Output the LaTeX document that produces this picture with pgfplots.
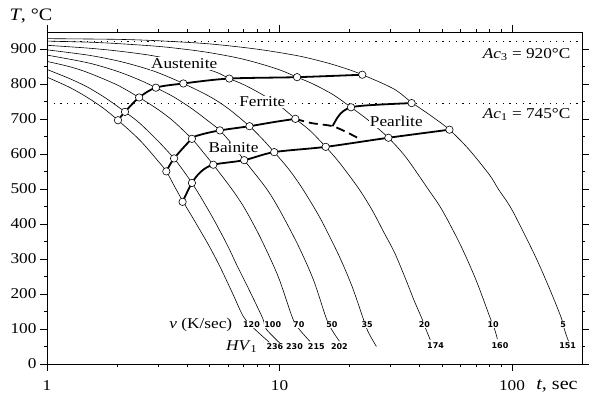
\documentclass[border=0pt]{standalone}
\usepackage{fontspec}
\setmainfont{Liberation Serif}[FakeStretch=1.15]
\newfontfamily\numfont{DejaVu Sans}
\usepackage{pgfplots}
\pgfplotsset{compat=1.18}
\usetikzlibrary{calc}
\begin{document}
\begin{tikzpicture}[font=\fontsize{15}{18}\selectfont]
\begin{axis}[
  scale only axis, width=535pt, height=332pt,
  xmode=log, xmin=1, xmax=200, ymin=0, ymax=948,
  xtick={1,10,100}, xticklabels={1,10,100},
  minor xtick={2,3,4,5,6,7,8,9,20,30,40,50,60,70,80,90},
  ytick={0,100,200,300,400,500,600,700,800,900},
  minor ytick={50,150,250,350,450,550,650,750,850},
  tick align=outside,
  major tick length=7pt, minor tick length=3pt,
  tick style={black, line width=0.6pt},
  axis line style={line width=0.8pt},
  xticklabel style={yshift=-6pt},
  /pgf/number format/assume math mode=true,
  clip=false,
  cv/.style={black, line width=0.6pt, smooth},
  tl/.style={black, line width=1.8pt, smooth},
]
\coordinate (ll) at (rel axis cs:0,0);
\coordinate (ur) at (rel axis cs:1,1);
% Ac lines
\addplot[black, line width=0.9pt, dash pattern=on 1.2pt off 5.5pt] coordinates {(1,920) (200,920)};
\addplot[black, line width=0.9pt, dash pattern=on 1.2pt off 5.5pt] coordinates {(1,745) (200,745)};
% cooling curves
\addplot[cv] coordinates {(1,819) (1.25,790) (1.5,760) (1.75,730) (2.02,696) (2.5,640) (3,580) (3.26,550) (3.55,505) (3.83,466) (4.3,410) (5,335) (5.6,272) (6.3,200) (7.0,135) (7.81,100) (9.04,62)};
\addplot[cv] coordinates {(1,841) (1.25,815) (1.5,790) (1.8,758) (2.165,720) (2.5,688) (3,637) (3.52,587) (3.85,553) (4.2,517) (4.6,475) (5.24,410) (5.98,338) (6.6,278) (7.3,220) (8.46,131) (8.76,100) (10.2,55)};
\addplot[cv] coordinates {(1,864) (1.25,849) (1.5,832) (2,797) (2.49,761) (3,727) (3.5,693) (4.2,643) (4.6,612) (5.19,569) (6.18,503) (7,450) (8,380) (9,310) (10,240) (11.4,130) (12.2,98) (13.5,65)};
\addplot[cv] coordinates {(1,882) (1.5,860) (2,836) (2.5,811) (2.94,789) (3.5,763) (4.2,729) (5,691) (5.54,667) (6.3,625) (7.05,582) (8.76,502) (10,440) (12,340) (14,240) (15.9,130) (16.96,93) (18.1,65)};
\addplot[cv] coordinates {(1,897) (1.5,882) (2,866) (2.5,849) (3,832) (3.86,801) (5,764) (6,730) (7.43,679) (8.4,644) (9.49,605) (11,555) (12.6,499) (15,415) (18,310) (20.5,222) (22.9,130) (24.0,93) (26.1,50)};
\addplot[cv] coordinates {(1,910) (1.5,902) (2,894) (2.75,882) (3.5,868) (4.5,849) (5.4,832) (6.08,815) (7,798) (8.4,770) (10,738) (11.7,700) (13.5,667) (15.8,620) (18,577) (21.8,503) (25,440) (28,378) (31.3,317) (35,240) (38,180) (40.9,131) (42.7,98) (44.5,69)};
\addplot[cv] coordinates {(1,922) (1.5,919) (2,915) (3,907) (4,898) (5,889) (6.5,875) (8,860) (10,840) (11.9,819) (14,799) (17,769) (20.3,733) (24,697) (29.4,646) (35,590) (43.5,500) (50,440) (60,340) (70,240) (80.6,131) (84.3,98) (86.5,71)};
\addplot[cv] coordinates {(1,929) (2,927) (3,923) (5,914) (8,899) (12,880) (16,860) (20,840) (22.7,826) (28,800) (32,780) (37,747) (45,708) (53.8,669) (65,614) (80,540) (87.6,498) (100,440) (125,312) (145,215) (163,131) (169,93) (175,65)};
% transformation lines
\addplot[tl] coordinates {(2.02,696) (2.165,720) (2.49,761) (2.94,789) (3.86,801) (6.08,815) (11.9,819) (22.7,826)};
\addplot[tl] coordinates {(3.26,550) (3.52,587) (4.2,643) (4.59,655) (5.54,667) (7.43,679) (9.5,691) (11.7,700)};
\addplot[black, line width=1.8pt, smooth, dash pattern=on 9pt off 5pt] coordinates {(11.7,700) (13.7,688) (16.9,679) (19.7,660) (22.5,640)};
\addplot[tl] coordinates {(16.9,679) (17.85,706) (18.8,722) (20.3,733) (23.3,738) (29.4,742) (37,745)};
\addplot[tl] coordinates {(3.83,463) (4.2,517) (4.59,549) (5.19,569) (7.05,582) (9.49,605) (15.8,620) (29.4,646) (53.8,669)};
% circles
\addplot[only marks, mark=*, mark size=3.7pt, mark options={fill=white, draw=black, line width=0.6pt}] coordinates {
(2.02,696) (2.165,720) (2.49,761) (2.94,789) (3.86,801) (6.08,815) (11.9,819) (22.7,826)
(20.3,733) (37,745)
(3.26,550) (3.52,587) (4.2,643) (5.54,667) (7.43,679) (11.7,700)
(3.83,463) (4.2,517) (5.19,569) (7.05,582) (9.49,605) (15.8,620) (29.4,646) (53.8,669)};
% phase labels
\node[fill=white, inner sep=1pt] at (axis cs:3.89,858) {Austenite};
\node[fill=white, inner sep=1pt] at (axis cs:8.43,749) {Ferrite};
\node[fill=white, inner sep=1pt] at (axis cs:6.34,618) {Bainite};
\node[fill=white, inner sep=1pt] at (axis cs:31.8,692) {Pearlite};
\node[anchor=east, inner sep=0pt] at (axis cs:178.5,884) {\textit{Ac}\textsubscript{3} = 920°C};
\node[anchor=east, inner sep=0pt] at (axis cs:178.5,712) {\textit{Ac}\textsubscript{1} = 745°C};
% rate labels
\begin{scope}[every node/.style={fill=white, inner sep=0.6pt, font=\numfont\bfseries\fontsize{8}{9}\selectfont}]
\node at (axis cs:7.58,113) {120};
\node at (axis cs:9.35,113) {100};
\node at (axis cs:12.1,113) {70};
\node at (axis cs:16.8,113) {50};
\node at (axis cs:23.8,113) {35};
\node at (axis cs:42,113) {20};
\node at (axis cs:83,113) {10};
\node at (axis cs:166,112) {5};
\node at (axis cs:9.55,50) {236};
\node at (axis cs:11.6,50) {230};
\node at (axis cs:14.4,50) {215};
\node at (axis cs:18.1,51) {202};
\node at (axis cs:46.9,53) {174};
\node at (axis cs:88.8,53) {160};
\node at (axis cs:173.5,51) {151};
\end{scope}
\node[anchor=east, inner sep=0pt] at (axis cs:6.27,113) {\textit{v} (K/sec)};
\node[anchor=east, inner sep=0pt] at (axis cs:8.04,49) {\textit{HV}\textsubscript{1}};
\node[inner sep=0pt, font=\fontsize{17.5}{20}\selectfont] at ($(rel axis cs:0,1)+(-16pt,16pt)$) {\textit{T}, °C};
\node[anchor=base, inner sep=0pt, font=\fontsize{17.5}{20}\selectfont] at ($(rel axis cs:0,0)+(510pt,-26pt)$) {\textit{t}, sec};
\end{axis}
\pgfresetboundingbox
\path ($(ll)+(-47pt,-32pt)$) rectangle ($(ur)+(19pt,32pt)$);
\end{tikzpicture}
\end{document}
